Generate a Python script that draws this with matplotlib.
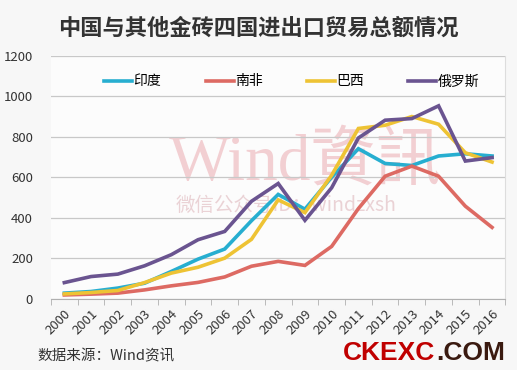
import matplotlib

matplotlib.use("Agg")
import matplotlib.pyplot as plt  # noqa: E402
import numpy as np  # noqa: E402

plt.rcParams["font.family"] = ["Noto Sans CJK SC", "DejaVu Sans"]

years = [str(y) for y in range(2000, 2017)]
india = [27, 35, 52, 76, 134, 195, 245, 385, 515, 442, 600, 741, 668, 658, 705, 716, 705]
south_africa = [18, 22, 27, 43, 63, 80, 107, 160, 184, 164, 258, 445, 605, 655, 605, 457, 352]
brazil = [23, 30, 40, 79, 126, 155, 200, 293, 488, 425, 610, 841, 857, 900, 862, 721, 675]
russia = [79, 109, 121, 162, 217, 291, 332, 481, 569, 387, 548, 794, 882, 890, 953, 680, 697]

series = [
    ("印度", india, "#27aed0"),
    ("南非", south_africa, "#dd6a63"),
    ("巴西", brazil, "#eec334"),
    ("俄罗斯", russia, "#6a5490"),
]
yticks = [0, 200, 400, 600, 800, 1000, 1200]

fig = plt.figure(figsize=(5.17, 3.70), dpi=100, facecolor="#f7f7f7")
ax = fig.add_axes([0.0986, 0.193, 0.879, 0.656], facecolor="#fcfcfc")

x = np.arange(len(years))
for name, vals, color in series:
    ax.plot(x, vals, color=color, linewidth=2.6, label=name, solid_joinstyle="miter")

ax.set_xlim(-0.5, len(years) - 0.5)
ax.set_ylim(0, 1200)
ax.set_yticks(yticks)
ax.set_yticklabels([str(v) for v in yticks], fontsize=9.5, color="#333333")
ax.yaxis.grid(True, color="#c8c8c8", linewidth=0.9)
ax.set_axisbelow(True)
ax.tick_params(axis="y", length=0, pad=13)

ax.set_xticks(x)
ax.set_xticklabels(years, rotation=45, ha="right", rotation_mode="anchor",
                   fontsize=9.5, color="#333333")
ax.set_xticks(np.arange(-0.5, len(years)), minor=True)
ax.tick_params(axis="x", which="major", length=0, pad=6)
ax.tick_params(axis="x", which="minor", length=4, color="#b0b0b0", direction="out")

for side in ("left", "top"):
    ax.spines[side].set_visible(False)
ax.spines["bottom"].set_color("#b0b0b0")
ax.spines["right"].set_color("#dddddd")

# watermark
ax.text(0.26, 0.49, "Wind資訊", transform=ax.transAxes, fontsize=47,
        family=["Liberation Serif", "Noto Sans CJK TC"], color="#f0c4c8",
        alpha=0.8, va="baseline", ha="left", zorder=0)
ax.text(0.275, 0.36, "微信公众号ID：windzxsh", transform=ax.transAxes, fontsize=14,
        family=["Noto Sans CJK SC", "Liberation Serif"], color="#e6c8cc",
        alpha=0.8, va="baseline", ha="left", zorder=0)

ax.legend(loc="upper center", bbox_to_anchor=(0.53, 0.975), ncol=4, frameon=False,
          fontsize=10, handlelength=2.0, handletextpad=0.1, columnspacing=3.2)

fig.text(0.5, 0.925, "中国与其他金砖四国进出口贸易总额情况", ha="center", va="center",
         fontsize=16, fontweight="bold", color="#333333")
fig.text(0.072, 0.036, "数据来源：Wind资讯", ha="left", va="center",
         fontsize=10.5, color="#333333")
fig.text(0.663, 0.046, "CKEXC", ha="left", va="center", fontsize=19,
         fontweight="bold", family="Liberation Sans", color="#c00000")
fig.text(0.977, 0.046, ".COM", ha="right", va="center", fontsize=19,
         fontweight="bold", family="Liberation Sans", color="#3a1a10")

fig.savefig("out.png", dpi=100, facecolor=fig.get_facecolor())
plt.close(fig)
